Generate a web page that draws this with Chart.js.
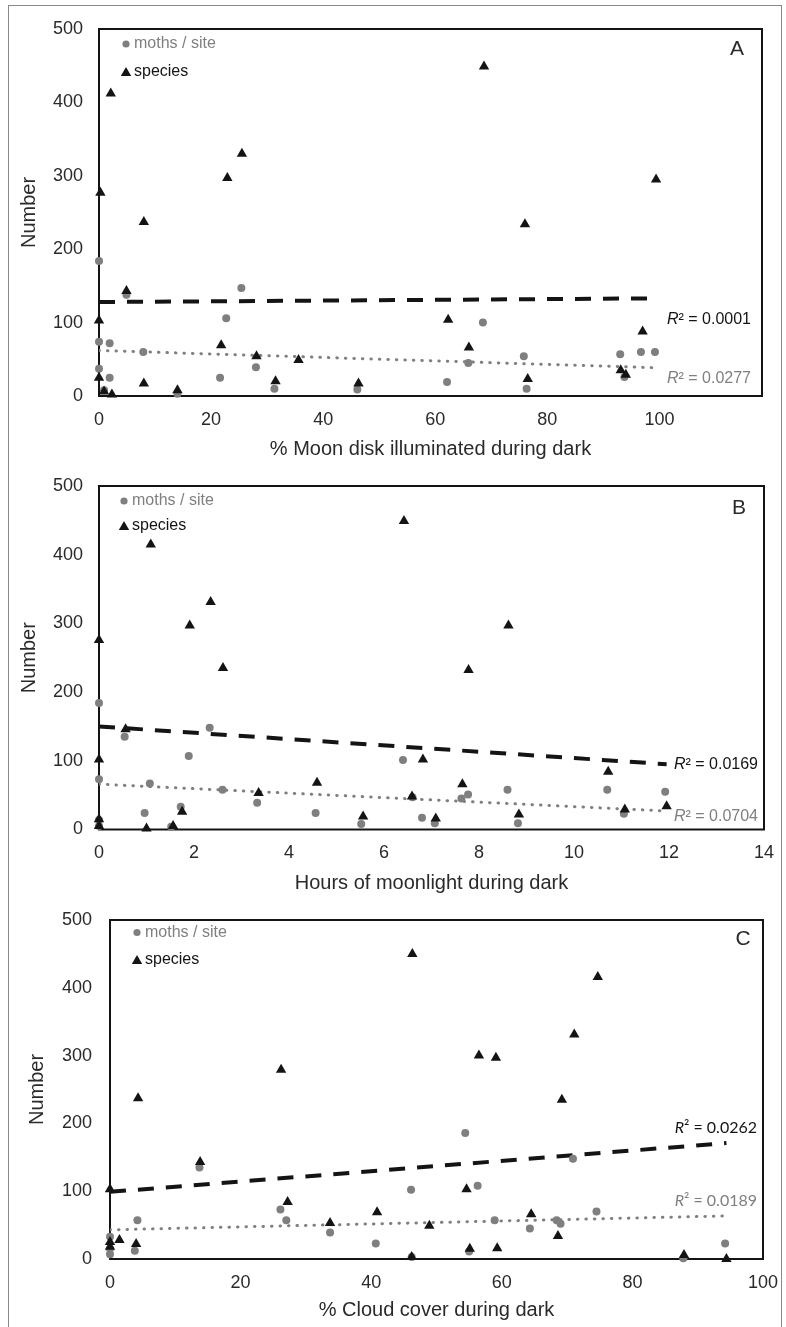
<!DOCTYPE html>
<html>
<head>
<meta charset="utf-8">
<script src="https://cdn.jsdelivr.net/npm/chart.js@4.4.1/dist/chart.umd.min.js"></script>
<style>
  html, body { margin: 0; padding: 0; background: #fff; }
  #figure { position: relative; width: 786px; height: 1327px; overflow: hidden; }
  #frame { position: absolute; left: 8px; top: 5px; width: 774px; height: 1340px; border: 1px solid #8a8a8a; box-sizing: border-box; }
  .panel { position: absolute; left: 0; width: 786px; }
</style>
</head>
<body>
<div id="figure">
  <div id="frame"></div>
  <div class="panel" style="top:0;height:470px"><canvas id="moonChart"></canvas></div>
  <div class="panel" style="top:470px;height:432px"><canvas id="hoursChart"></canvas></div>
  <div class="panel" style="top:902px;height:425px"><canvas id="cloudChart"></canvas></div>
</div>
<script>
// A: % moon disk illuminated
const moonSpeciesX = [0, 0, 0.25, 0.9, 2.1, 2.3, 4.9, 8.0, 8.0, 14, 21.8, 22.9, 25.5, 28.1, 31.5, 35.6, 46.3, 62.3, 66.0, 68.7, 76.0, 76.5, 93.1, 94.0, 97.0, 99.4];
const moonSpeciesY = [103, 25, 277, 6, 412, 2, 143, 237, 17, 8, 69, 297, 330, 54, 20, 49, 17, 104, 66, 449, 234, 23, 35, 29, 88, 295];
const moonMothsX = [0, 0, 0, 0.9, 1.9, 1.9, 4.9, 7.9, 14, 21.6, 22.7, 25.4, 28, 31.3, 46.1, 62.1, 65.9, 68.5, 75.8, 76.3, 93, 93.75, 96.7, 99.2];
const moonMothsY = [184, 74, 37, 8, 72, 25, 138, 60, 3, 25, 106, 147, 39, 10, 9, 19, 45, 100, 54, 10, 57, 26, 60, 60];
const moonSpeciesTrendX = [0, 99.4];
const moonSpeciesTrendY = [128, 133];
const moonMothsTrendX = [0, 99.2];
const moonMothsTrendY = [62, 38.5];

// B: hours of moonlight
const hoursSpeciesX = [0, 0, 0, 0, 0.56, 1.0, 1.09, 1.56, 1.75, 1.91, 2.35, 2.61, 3.36, 4.59, 5.56, 6.42, 6.59, 6.82, 7.09, 7.65, 7.78, 8.62, 8.84, 10.72, 11.07, 11.95];
const hoursSpeciesY = [276, 102, 15, 5, 146, 1.5, 415, 5, 26, 297, 331, 235, 53, 68, 19, 449, 48, 102, 16, 66, 232, 297, 22, 84, 29, 34];
const hoursMothsX = [0, 0, 0, 0, 0.54, 0.96, 1.07, 1.52, 1.72, 1.89, 2.33, 2.6, 3.33, 4.56, 5.52, 6.4, 6.6, 6.8, 7.07, 7.63, 7.77, 8.6, 8.82, 10.7, 11.05, 11.92];
const hoursMothsY = [184, 73, 14, 5, 135, 24, 67, 4, 33, 107, 148, 58, 39, 24, 8, 101, 47, 17, 9, 45, 51, 58, 9, 58, 23, 55];
const hoursSpeciesTrendX = [0, 11.95];
const hoursSpeciesTrendY = [150, 95];
const hoursMothsTrendX = [0, 11.92];
const hoursMothsTrendY = [66, 27];

// C: % cloud cover
const cloudSpeciesX = [0, 0, 0, 1.45, 4.0, 4.3, 13.8, 26.2, 27.2, 33.7, 40.9, 46.2, 46.3, 48.9, 54.6, 55.1, 56.5, 59.1, 59.3, 64.5, 68.6, 69.2, 71.1, 74.7, 87.9, 94.4];
const cloudSpeciesY = [103, 25, 18, 28, 22, 237, 143, 279, 84, 53, 69, 3, 450, 49, 103, 15, 300, 297, 16, 66, 34, 235, 331, 416, 6, 0];
const cloudMothsX = [0, 0, 0, 3.8, 4.2, 13.7, 26.1, 27, 33.7, 40.7, 46.1, 46.2, 54.4, 55, 56.3, 58.9, 64.3, 68.4, 69, 70.9, 74.5, 87.8, 94.2];
const cloudMothsY = [33, 15, 7, 12, 57, 135, 73, 57, 39, 23, 102, 3, 186, 11, 108, 57, 45, 57, 52, 148, 70, 1, 23];
const cloudSpeciesTrendX = [0, 94.4];
const cloudSpeciesTrendY = [99, 171];
const cloudMothsTrendX = [0, 94.2];
const cloudMothsTrendY = [43, 63.5];

const yTicks = [0, 100, 200, 300, 400, 500];
const percentTicks = [0, 20, 40, 60, 80, 100];
const hourTicks = [0, 2, 4, 6, 8, 10, 12, 14];

const BLACK = '#141414';
const GRAY = '#7f7f7f';
const TEXT = '#2a2a2a';
const FONT = '"Liberation Sans", Arial, sans-serif';

function points(xs, ys) {
  return xs.map((x, i) => ({ x: x, y: ys[i] }));
}

function drawR2(ctx, value, xRight, y, color, font) {
  ctx.fillStyle = color;
  ctx.font = 'italic ' + font;
  const wR = ctx.measureText('R').width;
  ctx.font = font;
  const rest = '\u00b2 = ' + value;
  const x0 = xRight - wR - ctx.measureText(rest).width;
  ctx.font = 'italic ' + font;
  ctx.fillText('R', x0, y);
  ctx.font = font;
  ctx.fillText(rest, x0 + wR, y);
}

function makePanel(id, p) {
  // box round the plot area, legend, panel letter and R² labels
  const notes = {
    id: 'notes',
    beforeDatasetsDraw(chart) {
      const { ctx, chartArea: a } = chart;
      ctx.save();
      ctx.strokeStyle = BLACK;
      ctx.lineWidth = 2;
      ctx.strokeRect(a.left, a.top, a.right - a.left, a.bottom - a.top);
      ctx.restore();
    },
    afterDatasetsDraw(chart) {
      const ctx = chart.ctx;
      ctx.save();
      ctx.textBaseline = 'middle';
      ctx.textAlign = 'left';

      ctx.fillStyle = GRAY;
      Chart.helpers.drawPoint(ctx, { pointStyle: 'circle', radius: 3.6, borderWidth: 0 }, p.legendX, p.legendY[0]);
      ctx.fillStyle = BLACK;
      Chart.helpers.drawPoint(ctx, { pointStyle: 'triangle', radius: 6, borderWidth: 0 }, p.legendX, p.legendY[1] + 1);
      ctx.font = '16px ' + FONT;
      ctx.fillStyle = GRAY;
      ctx.fillText('moths / site', p.legendX + 8, p.legendY[0]);
      ctx.fillStyle = BLACK;
      ctx.fillText('species', p.legendX + 8, p.legendY[1]);

      ctx.font = '21px ' + FONT;
      ctx.fillStyle = TEXT;
      ctx.textAlign = 'center';
      ctx.fillText(p.letter, p.letterPos[0], p.letterPos[1]);

      ctx.textAlign = 'left';
      drawR2(ctx, p.r2[0], p.r2Right, p.r2Y[0], BLACK, p.r2Font);
      drawR2(ctx, p.r2[1], p.r2Right, p.r2Y[1], GRAY, p.r2Font);
      ctx.restore();
    }
  };

  return new Chart(document.getElementById(id), {
    type: 'scatter',
    data: {
      datasets: [
        {
          label: 'species',
          data: points(p.speciesX, p.speciesY),
          pointStyle: 'triangle',
          pointRadius: 6,
          pointBackgroundColor: BLACK,
          pointBorderWidth: 0,
          clip: false
        },
        {
          label: 'moths / site',
          data: points(p.mothsX, p.mothsY),
          pointStyle: 'circle',
          pointRadius: 4,
          pointBackgroundColor: GRAY,
          pointBorderWidth: 0,
          clip: false
        },
        {
          type: 'line',
          label: 'species trend',
          data: points(p.speciesTrendX, p.speciesTrendY),
          borderColor: BLACK,
          borderWidth: 4,
          borderDash: [16, 12],
          pointRadius: 0,
          fill: false
        },
        {
          type: 'line',
          label: 'moths trend',
          data: points(p.mothsTrendX, p.mothsTrendY),
          borderColor: GRAY,
          borderWidth: 3,
          borderDash: [0.5, 8],
          borderCapStyle: 'round',
          pointRadius: 0,
          fill: false
        }
      ]
    },
    options: {
      responsive: true,
      maintainAspectRatio: false,
      animation: false,
      layout: { padding: p.padding },
      plugins: { legend: { display: false }, tooltip: { enabled: false } },
      scales: {
        x: {
          type: 'linear',
          min: 0,
          max: p.xMax,
          afterBuildTicks: s => { s.ticks = p.xTicks.map(v => ({ value: v })); },
          afterFit: s => { s.height = p.xAxisHeight; s.paddingLeft = 0; s.paddingRight = 0; },
          grid: { display: false, drawTicks: false },
          border: { display: false },
          ticks: { font: { size: 18, family: FONT }, color: TEXT, padding: 13, maxRotation: 0 },
          title: { display: true, text: p.xTitle, font: { size: 20, family: FONT }, color: TEXT, padding: 0 }
        },
        y: {
          min: 0,
          max: 500,
          afterBuildTicks: s => { s.ticks = yTicks.map(v => ({ value: v })); },
          // keep the plot top where the layout padding puts it
          afterFit: s => { s.width = p.yAxisWidth; s.paddingTop = 0; s.paddingBottom = 0; },
          grid: { display: false, drawTicks: false },
          border: { display: false },
          ticks: { font: { size: 18, family: FONT }, color: TEXT, padding: p.yTickPad },
          title: { display: true, text: 'Number', font: { size: 20, family: FONT }, color: TEXT, padding: { top: p.yTitlePad, bottom: 0 } }
        }
      }
    },
    plugins: [notes]
  });
}

makePanel('moonChart', {
  speciesX: moonSpeciesX, speciesY: moonSpeciesY,
  mothsX: moonMothsX, mothsY: moonMothsY,
  speciesTrendX: moonSpeciesTrendX, speciesTrendY: moonSpeciesTrendY,
  mothsTrendX: moonMothsTrendX, mothsTrendY: moonMothsTrendY,
  xMax: 118.3, xTicks: percentTicks,
  xTitle: '% Moon disk illuminated during dark',
  padding: { left: 0, top: 29, right: 24, bottom: 9 },
  xAxisHeight: 65, yAxisWidth: 99, yTickPad: 16, yTitlePad: 17,
  legendX: 126, legendY: [44, 72],
  letter: 'A', letterPos: [737, 49],
  r2: ['0.0001', '0.0277'], r2Right: 751, r2Y: [320, 379], r2Font: '16px ' + FONT
});

makePanel('hoursChart', {
  speciesX: hoursSpeciesX, speciesY: hoursSpeciesY,
  mothsX: hoursMothsX, mothsY: hoursMothsY,
  speciesTrendX: hoursSpeciesTrendX, speciesTrendY: hoursSpeciesTrendY,
  mothsTrendX: hoursMothsTrendX, mothsTrendY: hoursMothsTrendY,
  xMax: 14, xTicks: hourTicks,
  xTitle: 'Hours of moonlight during dark',
  padding: { left: 0, top: 16, right: 22, bottom: 7 },
  xAxisHeight: 65.5, yAxisWidth: 99, yTickPad: 16, yTitlePad: 17,
  legendX: 124, legendY: [31, 56],
  letter: 'B', letterPos: [739, 38],
  r2: ['0.0169', '0.0704'], r2Right: 758, r2Y: [295, 347], r2Font: '16px ' + FONT
});

makePanel('cloudChart', {
  speciesX: cloudSpeciesX, speciesY: cloudSpeciesY,
  mothsX: cloudMothsX, mothsY: cloudMothsY,
  speciesTrendX: cloudSpeciesTrendX, speciesTrendY: cloudSpeciesTrendY,
  mothsTrendX: cloudMothsTrendX, mothsTrendY: cloudMothsTrendY,
  xMax: 100, xTicks: percentTicks,
  xTitle: '% Cloud cover during dark',
  padding: { left: 0, top: 18, right: 23, bottom: 5 },
  xAxisHeight: 63, yAxisWidth: 110, yTickPad: 18, yTitlePad: 25,
  legendX: 137, legendY: [30.5, 58],
  letter: 'C', letterPos: [743, 37],
  r2: ['0.0262', '0.0189'], r2Right: 757, r2Y: [226, 299], r2Font: '16px Lato, "Liberation Sans", sans-serif'
});
</script>
</body>
</html>
